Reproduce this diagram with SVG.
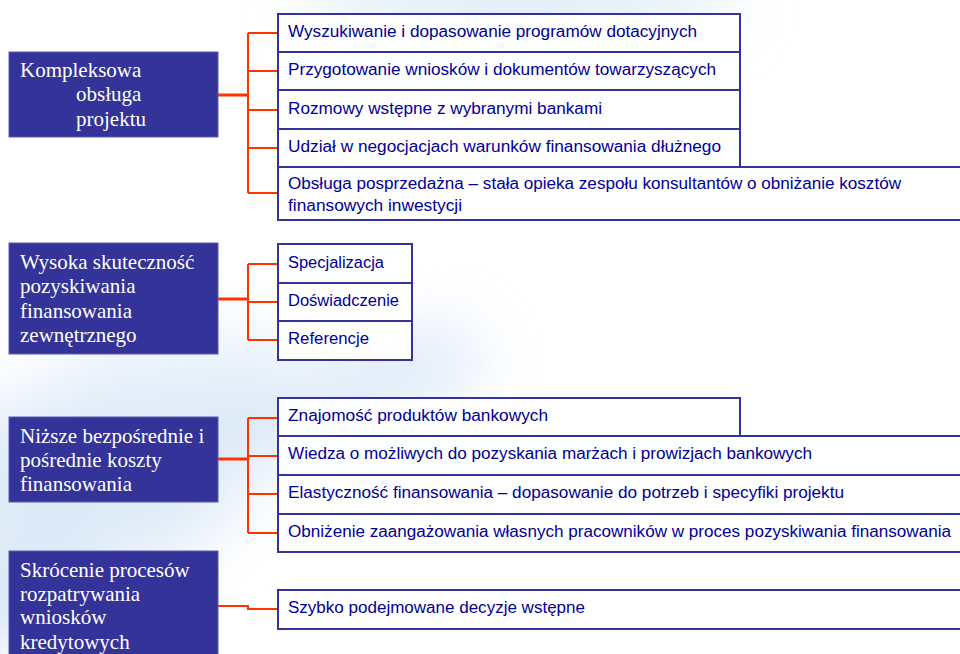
<svg xmlns="http://www.w3.org/2000/svg" width="960" height="654" viewBox="0 0 960 654">
<defs>
<filter id="blur" x="-50%" y="-50%" width="200%" height="200%"><feGaussianBlur stdDeviation="35"/></filter>
<style>
.main{fill:#333399;stroke:#5a5ab0;stroke-width:1}
.mt{font-family:"Liberation Serif","Times New Roman",serif;font-size:21px;fill:#ffffff}
.item{fill:#ffffff;fill-opacity:0.92;stroke:#333399;stroke-width:2}
.it{font-family:"Liberation Sans",Arial,sans-serif;font-size:16px;fill:#000099}
.con{fill:none;stroke:#ff3300;stroke-width:2}
.lead{fill:none;stroke:#ff3300;stroke-width:3}
</style>
</defs>
<rect x="0" y="0" width="960" height="654" fill="#ffffff"/>
<g id="background" filter="url(#blur)" opacity="0.6">
<ellipse cx="520" cy="0" rx="220" ry="30" fill="#b9d3f0"/>
<path d="M-60,620 C40,480 200,390 460,330 L480,380 C260,440 120,530 20,660 Z" fill="#b4cff0"/>
<ellipse cx="90" cy="480" rx="150" ry="90" fill="#c6dcf3"/>
<ellipse cx="200" cy="380" rx="140" ry="40" fill="#d2e3f6"/>
</g>

<g id="connectors">
<path class="lead" d="M218,95 H248"/>
<path class="con" d="M248,33 V193 M248,33 H278 M248,71 H278 M248,110 H278 M248,148 H278 M248,193 H278"/>
<path class="lead" d="M218,299 H248"/>
<path class="con" d="M248,264 V340 M248,264 H278 M248,302 H278 M248,340 H278"/>
<path class="lead" d="M218,459 H248"/>
<path class="con" d="M248,418 V533 M248,418 H278 M248,456 H278 M248,494 H278 M248,533 H278"/>
<path class="con" d="M218,606 H248 V609 H278"/>
</g>

<g id="n1">
<rect class="main" x="9" y="52" width="209" height="85"/>
<text class="mt" x="20" y="77">Kompleksowa</text>
<text class="mt" x="76" y="101">obsługa</text>
<text class="mt" x="76" y="126">projektu</text>
</g>
<g id="n2">
<rect class="main" x="9" y="243" width="209" height="111"/>
<text class="mt" x="20" y="269">Wysoka skuteczność</text>
<text class="mt" x="20" y="293">pozyskiwania</text>
<text class="mt" x="20" y="318">finansowania</text>
<text class="mt" x="20" y="342">zewnętrznego</text>
</g>
<g id="n3">
<rect class="main" x="9" y="417" width="209" height="85"/>
<text class="mt" x="20" y="443">Niższe bezpośrednie i</text>
<text class="mt" x="20" y="467">pośrednie koszty</text>
<text class="mt" x="20" y="491">finansowania</text>
</g>
<g id="n4">
<rect class="main" x="9" y="551" width="209" height="110"/>
<text class="mt" x="20" y="577">Skrócenie procesów</text>
<text class="mt" x="20" y="601">rozpatrywania</text>
<text class="mt" x="20" y="624">wniosków</text>
<text class="mt" x="20" y="649">kredytowych</text>
</g>

<g id="n1a"><rect class="item" x="278" y="14" width="462" height="38"/><text class="it" x="288" y="37" textLength="409" lengthAdjust="spacingAndGlyphs">Wyszukiwanie i dopasowanie programów dotacyjnych</text></g>
<g id="n1b"><rect class="item" x="278" y="52" width="462" height="38"/><text class="it" x="288" y="75" textLength="428" lengthAdjust="spacingAndGlyphs">Przygotowanie wniosków i dokumentów towarzyszących</text></g>
<g id="n1c"><rect class="item" x="278" y="90" width="462" height="39"/><text class="it" x="288" y="114" textLength="314" lengthAdjust="spacingAndGlyphs">Rozmowy wstępne z wybranymi bankami</text></g>
<g id="n1d"><rect class="item" x="278" y="129" width="462" height="38"/><text class="it" x="288" y="152" textLength="433" lengthAdjust="spacingAndGlyphs">Udział w negocjacjach warunków finansowania dłużnego</text></g>
<g id="n1e"><rect class="item" x="278" y="167" width="700" height="53"/><text class="it" x="288" y="189" textLength="613" lengthAdjust="spacingAndGlyphs">Obsługa posprzedażna – stała opieka zespołu konsultantów o obniżanie kosztów</text><text class="it" x="288" y="211" textLength="174" lengthAdjust="spacingAndGlyphs">finansowych inwestycji</text></g>

<g id="n2a"><rect class="item" x="278" y="244" width="134" height="39"/><text class="it" x="288" y="268" textLength="96" lengthAdjust="spacingAndGlyphs">Specjalizacja</text></g>
<g id="n2b"><rect class="item" x="278" y="283" width="134" height="38"/><text class="it" x="288" y="306" textLength="111" lengthAdjust="spacingAndGlyphs">Doświadczenie</text></g>
<g id="n2c"><rect class="item" x="278" y="321" width="134" height="39"/><text class="it" x="288" y="344" textLength="81" lengthAdjust="spacingAndGlyphs">Referencje</text></g>

<g id="n3a"><rect class="item" x="278" y="398" width="462" height="38"/><text class="it" x="288" y="421" textLength="260" lengthAdjust="spacingAndGlyphs">Znajomość produktów bankowych</text></g>
<g id="n3b"><rect class="item" x="278" y="436" width="700" height="39"/><text class="it" x="288" y="459" textLength="524" lengthAdjust="spacingAndGlyphs">Wiedza o możliwych do pozyskania marżach i prowizjach bankowych</text></g>
<g id="n3c"><rect class="item" x="278" y="475" width="700" height="39"/><text class="it" x="288" y="498" textLength="556" lengthAdjust="spacingAndGlyphs">Elastyczność finansowania – dopasowanie do potrzeb i specyfiki projektu</text></g>
<g id="n3d"><rect class="item" x="278" y="514" width="700" height="38"/><text class="it" x="288" y="537" textLength="663" lengthAdjust="spacingAndGlyphs">Obniżenie zaangażowania własnych pracowników w proces pozyskiwania finansowania</text></g>

<g id="n4a"><rect class="item" x="278" y="590" width="700" height="39"/><text class="it" x="288" y="613" textLength="297" lengthAdjust="spacingAndGlyphs">Szybko podejmowane decyzje wstępne</text></g>
</svg>
